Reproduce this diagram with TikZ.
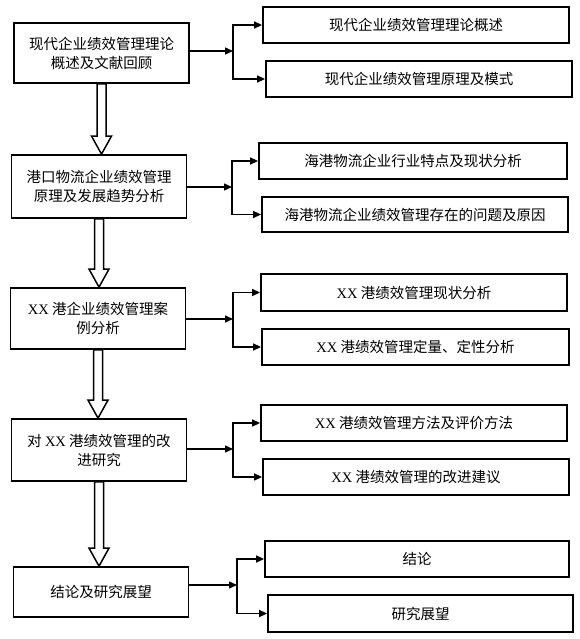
\documentclass[tikz,border=0pt]{standalone}
\usepackage{fontspec}
\setmainfont{Liberation Serif}
\newfontfamily\cjk{Noto Sans CJK SC}
\newcommand{\XX}{{\normalfont XX}}
\usetikzlibrary{positioning, calc, arrows.meta}

\begin{document}
\begin{tikzpicture}[
			x = 1pt, y = -1pt,
			font = \cjk\fontsize{14.5}{19}\selectfont,
			chapter/.style = {rectangle, draw, line width = 1.8pt, inner sep = 0pt, align = center, minimum width = 175pt, minimum height = 61pt},
			topic/.style = {rectangle, draw, line width = 1.8pt, inner sep = 0pt, minimum width = 306pt, minimum height = 36pt},
			branch/.style = {draw, line width = 1.4pt, -{Triangle[length = 8pt, width = 7pt]}},
			hollow/.style = {draw, line width = 1.5pt, fill = white, line join = miter}
		]
		\useasboundingbox (0,0) rectangle (579,639);

		% chapters
		\node[chapter, minimum height = 60pt] (l1) at (101.5,53) {现代企业绩效管理理论\\概述及文献回顾};
		\node[chapter, minimum height = 63pt] (l2) at (99,186.5) {港口物流企业绩效管理\\原理及发展趋势分析};
		\node[chapter] (l3) at (98,318.5) {\XX{} 港企业绩效管理案\\例分析};
		\node[chapter, minimum height = 62pt] (l4) at (99,450) {对 \XX{} 港绩效管理的改\\进研究};
		\node[chapter, minimum height = 50pt] (l5) at (101,592) {结论及研究展望};

		% topics
		\node[topic] (r1a) at (416,25) {现代企业绩效管理理论概述};
		\node[topic] (r1b) at (419,79) {现代企业绩效管理原理及模式};
		\node[topic, minimum width = 308pt] (r2a) at (413,161) {海港物流企业行业特点及现状分析};
		\node[topic, minimum height = 35pt] (r2b) at (415,214.5) {海港物流企业绩效管理存在的问题及原因};
		\node[topic, minimum height = 37pt] (r3a) at (414,292.5) {\XX{} 港绩效管理现状分析};
		\node[topic, minimum width = 307pt] (r3b) at (415.5,347) {\XX{} 港绩效管理定量、定性分析};
		\node[topic] (r4a) at (414,423) {\XX{} 港绩效管理方法及评价方法};
		\node[topic] (r4b) at (416,477) {\XX{} 港绩效管理的改进建议};
		\node[topic, minimum width = 304pt] (r5a) at (417,559) {结论};
		\node[topic, minimum width = 305pt, minimum height = 37pt] (r5b) at (420.5,613.5) {研究展望};

		% junctions
		\coordinate (j1) at (233,51);
		\coordinate (j2) at (232,187);
		\coordinate (j3) at (233,319);
		\coordinate (j4) at (233,449);
		\coordinate (j5) at (237,585);

		\draw[branch] (l1.east |- j1) -- (j1);
		\draw[branch] (j1) |- (r1a.west);
		\draw[branch] (j1) |- (r1b.west);

		\draw[branch] (l2.east |- j2) -- (j2);
		\draw[branch] (j2) |- (r2a.west);
		\draw[branch] (j2) |- (r2b.west);

		\draw[branch] (l3.east |- j3) -- (j3);
		\draw[branch] (j3) |- (r3a.west);
		\draw[branch] (j3) |- (r3b.west);

		\draw[branch] (l4.east |- j4) -- (j4);
		\draw[branch] (j4) |- (r4a.west);
		\draw[branch] (j4) |- (r4b.west);

		\draw[branch] (l5.east |- j5) -- (j5);
		\draw[branch] (j5) |- (r5a.west);
		\draw[branch] (j5) |- (r5b.west);

		% hollow arrows between chapters
		\draw[hollow] ($(l1.south)+(-4.5,0)$) -- ($(l1.south |- l2.north)+(-4.5,-18)$) -- ++(-5.5,0) -- (l1.south |- l2.north) -- ++(10,-18) -- ++(-5.5,0) -- ($(l1.south)+(4.5,0)$) -- cycle;
		\draw[hollow] ($(l2.south)+(-4.5,0)$) -- ($(l2.south |- l3.north)+(-4.5,-18)$) -- ++(-5.5,0) -- (l2.south |- l3.north) -- ++(10,-18) -- ++(-5.5,0) -- ($(l2.south)+(4.5,0)$) -- cycle;
		\draw[hollow] ($(l3.south)+(-4.5,0)$) -- ($(l3.south |- l4.north)+(-4.5,-18)$) -- ++(-5.5,0) -- (l3.south |- l4.north) -- ++(10,-18) -- ++(-5.5,0) -- ($(l3.south)+(4.5,0)$) -- cycle;
		\draw[hollow] ($(l4.south)+(-4.5,0)$) -- ($(l4.south |- l5.north)+(-4.5,-18)$) -- ++(-5.5,0) -- (l4.south |- l5.north) -- ++(10,-18) -- ++(-5.5,0) -- ($(l4.south)+(4.5,0)$) -- cycle;
	\end{tikzpicture}
\end{document}
